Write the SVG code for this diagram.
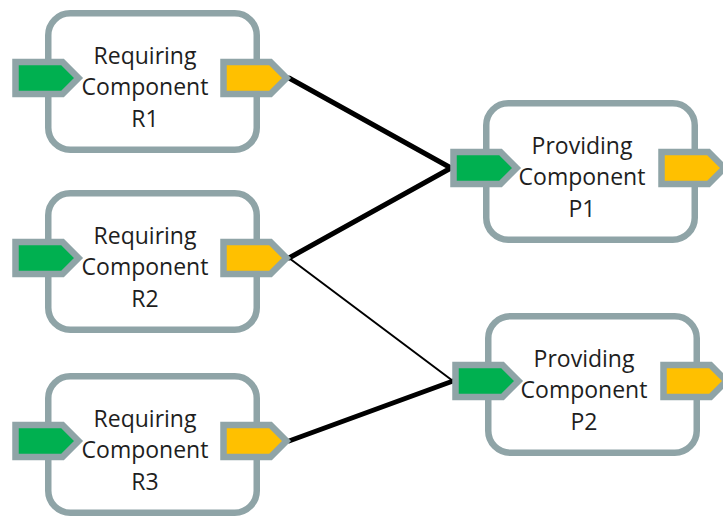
<svg xmlns="http://www.w3.org/2000/svg" width="723" height="516" viewBox="0 0 723 516">
<style>
.box{fill:#fff;stroke:#8FA4A7;stroke-width:6.5}
.pin{fill:#00B050;stroke:#8FA4A7;stroke-width:6.5;stroke-linejoin:miter}
.pout{fill:#FFC000;stroke:#8FA4A7;stroke-width:6.5;stroke-linejoin:miter}
.lbl{font-family:"Open Sans","Liberation Sans",sans-serif;font-size:23px;fill:#1e1e1e;text-anchor:middle}
.thick{stroke:#000;stroke-width:5;fill:none;stroke-linecap:round}
.thin{stroke:#000;stroke-width:2;fill:none;stroke-linecap:round}
</style>
<rect width="723" height="516" fill="#fff"/>
<g id="connectors">
<line class="thick" x1="289" y1="78" x2="451" y2="168"/>
<line class="thick" x1="289" y1="258" x2="451" y2="168"/>
<line class="thin" x1="289" y1="258" x2="453" y2="381"/>
<line class="thick" x1="289" y1="441" x2="453" y2="381"/>
</g>
<g id="R1">
<rect class="box" x="48.25" y="13.25" width="208.5" height="136.5" rx="22"/>
<polygon class="pin" points="15.5,62 62.5,62 78.5,78 62.5,94 15.5,94"/>
<polygon class="pout" points="223.5,62 270.5,62 286.5,78 270.5,94 223.5,94"/>
<text class="lbl" x="145" y="63.5">Requiring</text>
<text class="lbl" x="145" y="95">Component</text>
<text class="lbl" x="145" y="126.5">R1</text>
</g>
<g id="R2" transform="translate(0,180)">
<rect class="box" x="48.25" y="13.25" width="208.5" height="136.5" rx="22"/>
<polygon class="pin" points="15.5,62 62.5,62 78.5,78 62.5,94 15.5,94"/>
<polygon class="pout" points="223.5,62 270.5,62 286.5,78 270.5,94 223.5,94"/>
<text class="lbl" x="145" y="63.5">Requiring</text>
<text class="lbl" x="145" y="95">Component</text>
<text class="lbl" x="145" y="126.5">R2</text>
</g>
<g id="R3" transform="translate(0,363)">
<rect class="box" x="48.25" y="13.25" width="208.5" height="136.5" rx="22"/>
<polygon class="pin" points="15.5,62 62.5,62 78.5,78 62.5,94 15.5,94"/>
<polygon class="pout" points="223.5,62 270.5,62 286.5,78 270.5,94 223.5,94"/>
<text class="lbl" x="145" y="63.5">Requiring</text>
<text class="lbl" x="145" y="95">Component</text>
<text class="lbl" x="145" y="126.5">R3</text>
</g>
<g id="P1" transform="translate(438,90)">
<rect class="box" x="48.25" y="13.25" width="208.5" height="136.5" rx="22"/>
<polygon class="pin" points="15.5,62 62.5,62 78.5,78 62.5,94 15.5,94"/>
<polygon class="pout" points="223.5,62 270.5,62 286.5,78 270.5,94 223.5,94"/>
<text class="lbl" x="144" y="63.5">Providing</text>
<text class="lbl" x="144" y="95">Component</text>
<text class="lbl" x="144" y="126.5">P1</text>
</g>
<g id="P2" transform="translate(440,303)">
<rect class="box" x="48.25" y="13.25" width="208.5" height="136.5" rx="22"/>
<polygon class="pin" points="15.5,62 62.5,62 78.5,78 62.5,94 15.5,94"/>
<polygon class="pout" points="223.5,62 270.5,62 286.5,78 270.5,94 223.5,94"/>
<text class="lbl" x="144" y="63.5">Providing</text>
<text class="lbl" x="144" y="95">Component</text>
<text class="lbl" x="144" y="126.5">P2</text>
</g>
</svg>
